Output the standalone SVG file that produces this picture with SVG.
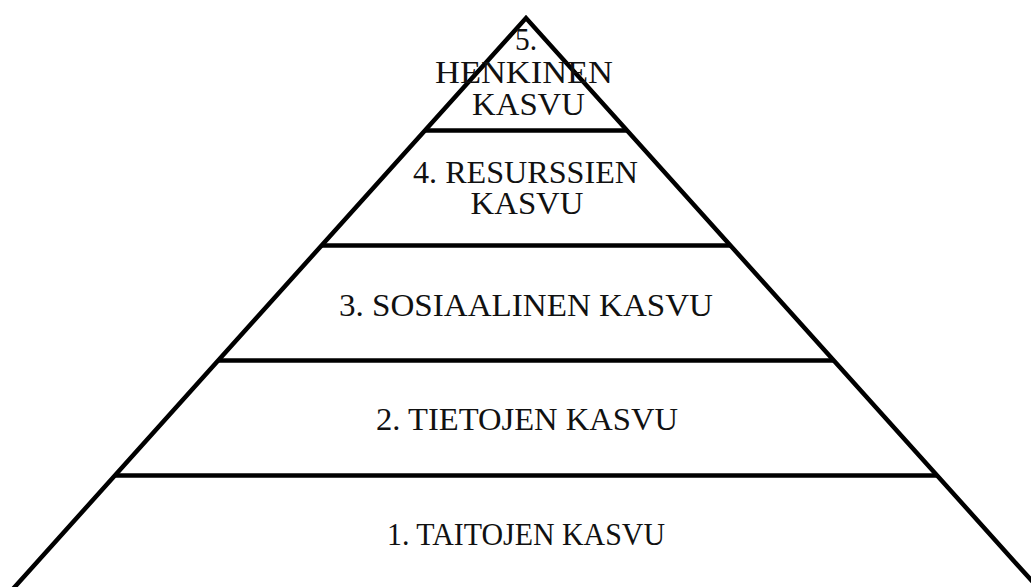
<svg xmlns="http://www.w3.org/2000/svg" width="1031" height="587" viewBox="0 0 1031 587">
<style>
.ln{fill:none;stroke:#000;stroke-width:4.5;stroke-linejoin:miter;stroke-linecap:butt}
.t{font-family:"Liberation Serif","DejaVu Serif",serif;font-size:32px;fill:#111;text-anchor:middle}
</style>
<rect width="1031" height="587" fill="#fff"/>
<g id="pyramid-outline">
<polyline class="ln" points="12,590 526,18 1040,590"/>
</g>
<g id="dividers">
<line class="ln" x1="425" y1="130.5" x2="627" y2="130.5"/>
<line class="ln" x1="321.7" y1="245.5" x2="730.3" y2="245.5"/>
<line class="ln" x1="218.4" y1="360.5" x2="833.6" y2="360.5"/>
<line class="ln" x1="115.1" y1="475.5" x2="936.9" y2="475.5"/>
</g>
<g id="tier5">
<text class="t" x="526" y="50" textLength="22" lengthAdjust="spacingAndGlyphs">5.</text>
<text class="t" x="524" y="83" textLength="178" lengthAdjust="spacingAndGlyphs">HENKINEN</text>
<text class="t" x="528.5" y="115" textLength="113" lengthAdjust="spacingAndGlyphs">KASVU</text>
</g>
<g id="tier4">
<text class="t" x="525.5" y="183" textLength="225" lengthAdjust="spacingAndGlyphs">4. RESURSSIEN</text>
<text class="t" x="527" y="214" textLength="113" lengthAdjust="spacingAndGlyphs">KASVU</text>
</g>
<g id="tier3">
<text class="t" x="526" y="316" textLength="374" lengthAdjust="spacingAndGlyphs">3. SOSIAALINEN KASVU</text>
</g>
<g id="tier2">
<text class="t" x="527" y="430" textLength="302" lengthAdjust="spacingAndGlyphs">2. TIETOJEN KASVU</text>
</g>
<g id="tier1">
<text class="t" x="526" y="545" textLength="278" lengthAdjust="spacingAndGlyphs">1. TAITOJEN KASVU</text>
</g>
</svg>
